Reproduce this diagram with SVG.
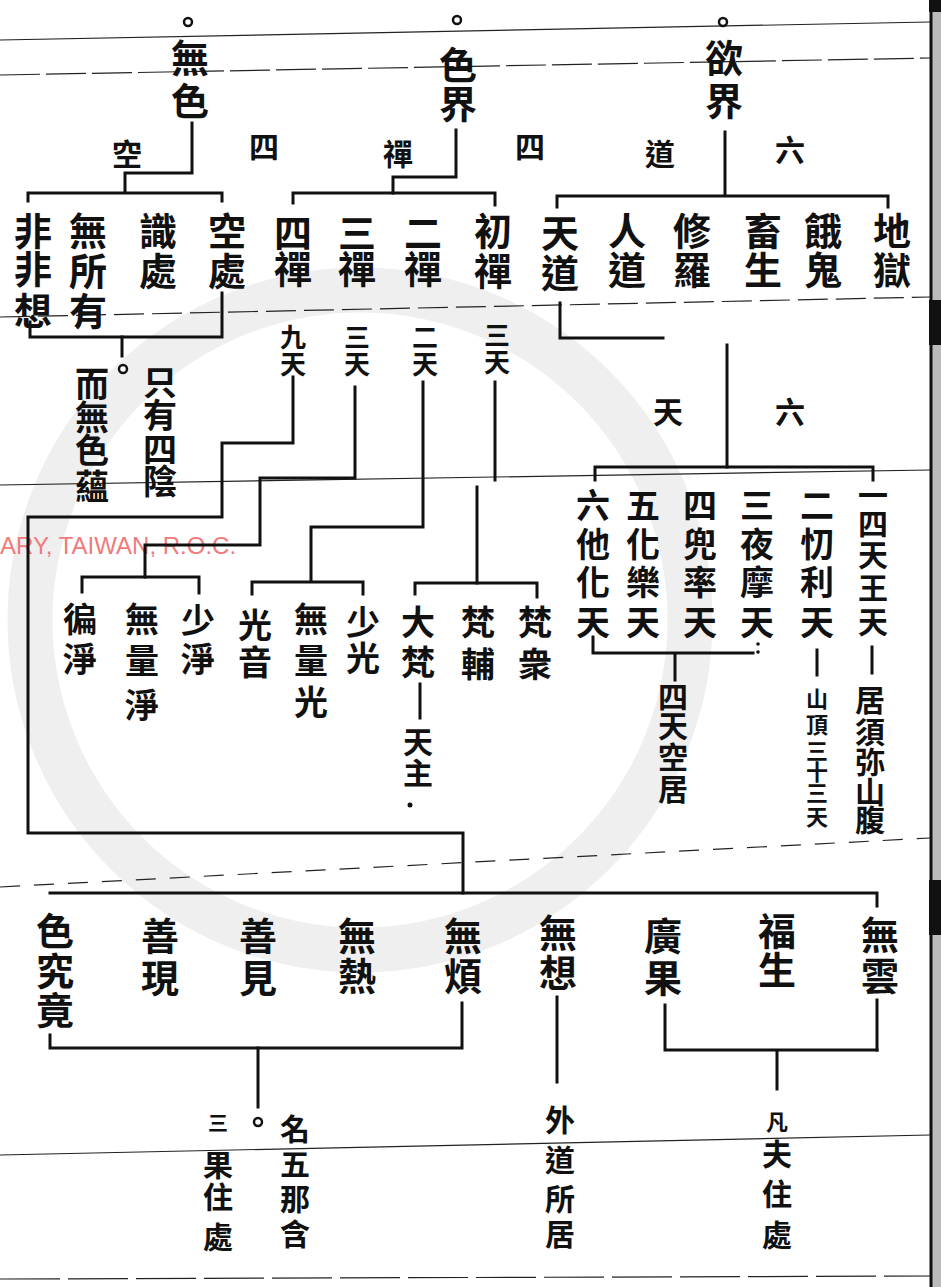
<svg xmlns="http://www.w3.org/2000/svg" width="941" height="1287" viewBox="0 0 941 1287">
<style>
.t{font-family:"Noto Sans CJK TC","Noto Sans CJK SC",sans-serif;font-weight:700;text-anchor:middle;dominant-baseline:central;fill:#111}
.s40{font-size:38px}
.s36{font-size:34px}
.s32{font-size:30px}
.s28{font-size:26px}
.s24{font-size:22px}
.c{fill:none;stroke:#111;stroke-width:3;stroke-linecap:square;stroke-linejoin:miter}
.d{stroke-dasharray:5 3}
.rule{fill:none;stroke:#222;stroke-width:1.2}
.ring{fill:none;stroke:#efefef}
.o{fill:#fff;stroke:#111;stroke-width:2.5}
.red{font-family:"Liberation Sans",Arial,sans-serif;font-size:24px;fill:#ef7b7b}
</style>
<rect width="941" height="1287" fill="#fff"/>
<g id="background">
<circle class="ring" cx="360" cy="620" r="330" stroke-width="45"/>
<path class="rule" d="M0,40 L930,22"/>
<path class="rule" d="M0,75 L930,58" stroke-dasharray="40 6"/>
<path class="rule" d="M0,317 L930,297" stroke-dasharray="30 8"/>
<path class="rule" d="M0,485 L930,470"/>
<path class="rule" d="M0,887 L930,838" stroke-dasharray="20 14"/>
<path class="rule" d="M0,1155 L930,1135"/>
<path class="rule" d="M0,1279 L941,1276" stroke-width="3" stroke-dasharray="60 8"/>
<rect x="932" y="0" width="9" height="1287" fill="#bbb"/>
<path d="M931,0 V1287" stroke="#111" stroke-width="3"/>
<rect x="929" y="0" width="12" height="12" fill="#111"/>
<rect x="929" y="300" width="12" height="45" fill="#111"/>
<rect x="929" y="880" width="12" height="55" fill="#111"/>
<text class="red" x="0" y="554">ARY, TAIWAN, R.O.C.</text>
</g>
<g id="connectors">
<path class="c" d="M192,123 V173 H125 V192"/>
<path class="c" d="M456,130 V177 H393 V193"/>
<path class="c" d="M725,132 V195"/>
<path class="c" d="M28,201 V193 H222 V201"/>
<path class="c" d="M293,203 V193 H495 V205"/>
<path class="c" d="M557,207 V196 H888 V207"/>
<path class="c" d="M30,322 V337 H222 V293"/>
<path class="c" d="M122,337 V356"/>
<circle class="o" cx="123" cy="369" r="4"/>
<path class="c" d="M293,377 V443 H222 V517 H28 V833 H463 V893"/>
<path class="c" d="M50,893 H877 V906"/>
<path class="c" d="M355,387 V478 H260 V545 H145 V577"/>
<path class="c" d="M82,592 V577 H199 V593"/>
<path class="c" d="M423,382 V527 H311 V580"/>
<path class="c" d="M252,594 V582 H363 V594"/>
<path class="c" d="M495,382 V480"/>
<path class="c" d="M477,487 V583"/>
<path class="c" d="M415,594 V583 H537 V597"/>
<path class="c d" d="M420,684 V718"/>
<circle cx="410" cy="805" r="2.5" fill="#111"/>
<path class="c" d="M560,303 V338 H663"/>
<path class="c" d="M727,345 V467"/>
<path class="c" d="M595,480 V467 H873 V480"/>
<path class="c d" d="M872,647 V673"/>
<path class="c d" d="M817,650 V675"/>
<path class="c" d="M593,637 V653 H753"/>
<path class="c d" d="M675,655 V680"/>
<circle cx="758" cy="644" r="1.8" fill="#111"/>
<circle cx="758" cy="652" r="1.8" fill="#111"/>
<path class="c" d="M50,1035 V1048 H462 V1003"/>
<path class="c" d="M258,1048 V1107"/>
<circle class="o" cx="258" cy="1122" r="4"/>
<path class="c d" d="M557,997 V1083"/>
<path class="c" d="M665,1005 V1050 H877"/>
<path class="c d" d="M877,1050 V1000"/>
<path class="c d" d="M777,1052 V1092"/>
<circle class="o" cx="188" cy="22" r="4"/>
<circle class="o" cx="457" cy="20" r="4"/>
<circle class="o" cx="723" cy="22" r="4"/>
</g>
<g id="n-wuse"><text class="t s40"><tspan x="190" y="55">無</tspan><tspan x="190" y="98">色</tspan></text></g>
<g id="n-sejie"><text class="t s40"><tspan x="458" y="62">色</tspan><tspan x="458" y="101">界</tspan></text></g>
<g id="n-yujie"><text class="t s40"><tspan x="724" y="55">欲</tspan><tspan x="724" y="98">界</tspan></text></g>
<g id="row-labels"><text class="t s32"><tspan x="127" y="152">空</tspan><tspan x="264" y="145">四</tspan><tspan x="398" y="152">禪</tspan><tspan x="530" y="145">四</tspan><tspan x="660" y="152">道</tspan><tspan x="790" y="148">六</tspan></text></g>
<g id="n-kongchu"><text class="t s40"><tspan x="227" y="228">空</tspan><tspan x="227" y="268">處</tspan></text></g>
<g id="n-shichu"><text class="t s40"><tspan x="158" y="228">識</tspan><tspan x="158" y="268">處</tspan></text></g>
<g id="n-wusuoyou"><text class="t s40"><tspan x="88" y="228">無</tspan><tspan x="88" y="268">所</tspan><tspan x="88" y="308">有</tspan></text></g>
<g id="n-feifeixiang"><text class="t s40"><tspan x="33" y="228">非</tspan><tspan x="33" y="266">非</tspan><tspan x="33" y="308">想</tspan></text></g>
<g id="n-sichan"><text class="t s40"><tspan x="293" y="230">四</tspan><tspan x="293" y="266">禪</tspan></text></g>
<g id="n-sanchan"><text class="t s40"><tspan x="357" y="230">三</tspan><tspan x="357" y="266">禪</tspan></text></g>
<g id="n-erchan"><text class="t s40"><tspan x="423" y="230">二</tspan><tspan x="423" y="266">禪</tspan></text></g>
<g id="n-chuchan"><text class="t s40"><tspan x="493" y="228">初</tspan><tspan x="493" y="268">禪</tspan></text></g>
<g id="n-tiandao"><text class="t s40"><tspan x="560" y="230">天</tspan><tspan x="560" y="270">道</tspan></text></g>
<g id="n-rendao"><text class="t s40"><tspan x="627" y="228">人</tspan><tspan x="627" y="267">道</tspan></text></g>
<g id="n-xiuluo"><text class="t s40"><tspan x="692" y="228">修</tspan><tspan x="692" y="267">羅</tspan></text></g>
<g id="n-chusheng"><text class="t s40"><tspan x="763" y="228">畜</tspan><tspan x="763" y="267">生</tspan></text></g>
<g id="n-egui"><text class="t s40"><tspan x="823" y="228">餓</tspan><tspan x="823" y="267">鬼</tspan></text></g>
<g id="n-diyu"><text class="t s40"><tspan x="892" y="228">地</tspan><tspan x="892" y="267">獄</tspan></text></g>
<g id="n-jiutian"><text class="t s28"><tspan x="293" y="335">九</tspan><tspan x="293" y="362">天</tspan></text></g>
<g id="n-santian-3"><text class="t s28"><tspan x="357" y="335">三</tspan><tspan x="357" y="362">天</tspan></text></g>
<g id="n-ertian"><text class="t s28"><tspan x="425" y="335">二</tspan><tspan x="425" y="362">天</tspan></text></g>
<g id="n-santian-1"><text class="t s28"><tspan x="497" y="333">三</tspan><tspan x="497" y="360">天</tspan></text></g>
<g id="n-note-wuse"><text class="t s36"><tspan x="160" y="380">只</tspan><tspan x="160" y="413">有</tspan><tspan x="160" y="447">四</tspan><tspan x="160" y="479">陰</tspan></text><text class="t s36"><tspan x="92" y="382">而</tspan><tspan x="92" y="415">無</tspan><tspan x="92" y="448">色</tspan><tspan x="92" y="484">蘊</tspan></text></g>
<g id="n-liutian"><text class="t s32"><tspan x="790" y="410">六</tspan><tspan x="668" y="410">天</tspan></text></g>
<g id="n-tawanghua"><text class="t s36"><tspan x="593" y="503">六</tspan><tspan x="593" y="542">他</tspan><tspan x="593" y="580">化</tspan><tspan x="593" y="620">天</tspan></text></g>
<g id="n-hualetian"><text class="t s36"><tspan x="643" y="503">五</tspan><tspan x="643" y="542">化</tspan><tspan x="643" y="580">樂</tspan><tspan x="643" y="620">天</tspan></text></g>
<g id="n-doushuai"><text class="t s36"><tspan x="700" y="503">四</tspan><tspan x="700" y="542">兜</tspan><tspan x="700" y="580">率</tspan><tspan x="700" y="620">天</tspan></text></g>
<g id="n-yemo"><text class="t s36"><tspan x="757" y="503">三</tspan><tspan x="757" y="542">夜</tspan><tspan x="757" y="580">摩</tspan><tspan x="757" y="620">天</tspan></text></g>
<g id="n-daoli"><text class="t s36"><tspan x="817" y="503">二</tspan><tspan x="817" y="542">忉</tspan><tspan x="817" y="580">利</tspan><tspan x="817" y="620">天</tspan></text></g>
<g id="n-sitianwang"><text class="t s32"><tspan x="873" y="493">一</tspan><tspan x="873" y="522">四</tspan><tspan x="873" y="553">天</tspan><tspan x="873" y="586">王</tspan><tspan x="873" y="620">天</tspan></text></g>
<g id="n-kongju"><text class="t s32"><tspan x="673" y="695">四</tspan><tspan x="673" y="724">天</tspan><tspan x="673" y="755">空</tspan><tspan x="673" y="787">居</tspan></text></g>
<g id="n-xumishanfu"><text class="t s32"><tspan x="870" y="698">居</tspan><tspan x="870" y="730">須</tspan><tspan x="870" y="760">弥</tspan><tspan x="870" y="790">山</tspan><tspan x="870" y="818">腹</tspan></text></g>
<g id="n-shanding"><text class="t s24"><tspan x="817" y="697">山</tspan><tspan x="817" y="723">頂</tspan><tspan x="817" y="749">三</tspan><tspan x="817" y="770">十</tspan><tspan x="817" y="791">三</tspan><tspan x="817" y="815">天</tspan></text></g>
<g id="n-shaoguang"><text class="t s36"><tspan x="363" y="620">少</tspan><tspan x="363" y="656">光</tspan></text></g>
<g id="n-wuliangguang"><text class="t s36"><tspan x="311" y="617">無</tspan><tspan x="311" y="658">量</tspan><tspan x="311" y="700">光</tspan></text></g>
<g id="n-guangyin"><text class="t s36"><tspan x="255" y="623">光</tspan><tspan x="255" y="660">音</tspan></text></g>
<g id="n-shaojing"><text class="t s36"><tspan x="198" y="618">少</tspan><tspan x="198" y="657">淨</tspan></text></g>
<g id="n-wuliangjing"><text class="t s36"><tspan x="142" y="617">無</tspan><tspan x="142" y="658">量</tspan><tspan x="142" y="703">淨</tspan></text></g>
<g id="n-bianjing"><text class="t s36"><tspan x="80" y="617">徧</tspan><tspan x="80" y="657">淨</tspan></text></g>
<g id="n-fanzhong"><text class="t s36"><tspan x="535" y="620">梵</tspan><tspan x="535" y="662">衆</tspan></text></g>
<g id="n-fanfu"><text class="t s36"><tspan x="478" y="620">梵</tspan><tspan x="478" y="662">輔</tspan></text></g>
<g id="n-dafan"><text class="t s36"><tspan x="418" y="620">大</tspan><tspan x="418" y="660">梵</tspan></text></g>
<g id="n-tianzhu"><text class="t s32"><tspan x="418" y="740">天</tspan><tspan x="418" y="771">主</tspan></text></g>
<g id="n-sejiujing"><text class="t s40"><tspan x="55" y="928">色</tspan><tspan x="55" y="968">究</tspan><tspan x="55" y="1007">竟</tspan></text></g>
<g id="n-shanxian"><text class="t s40"><tspan x="160" y="933">善</tspan><tspan x="160" y="975">現</tspan></text></g>
<g id="n-shanjian"><text class="t s40"><tspan x="258" y="933">善</tspan><tspan x="258" y="975">見</tspan></text></g>
<g id="n-wure"><text class="t s40"><tspan x="357" y="933">無</tspan><tspan x="357" y="973">熱</tspan></text></g>
<g id="n-wufan"><text class="t s40"><tspan x="463" y="933">無</tspan><tspan x="463" y="973">煩</tspan></text></g>
<g id="n-wuxiang"><text class="t s40"><tspan x="558" y="930">無</tspan><tspan x="558" y="970">想</tspan></text></g>
<g id="n-guangguo"><text class="t s40"><tspan x="663" y="933">廣</tspan><tspan x="663" y="975">果</tspan></text></g>
<g id="n-fusheng"><text class="t s40"><tspan x="777" y="928">福</tspan><tspan x="777" y="967">生</tspan></text></g>
<g id="n-wuyun"><text class="t s40"><tspan x="880" y="932">無</tspan><tspan x="880" y="973">雲</tspan></text></g>
<g id="n-wunahan"><text class="t s32"><tspan x="295" y="1127">名</tspan><tspan x="295" y="1162">五</tspan><tspan x="295" y="1197">那</tspan><tspan x="295" y="1232">含</tspan></text></g>
<g id="n-sanguo"><text class="t s32"><tspan x="218" y="1122" font-size="20">三</tspan><tspan x="218" y="1163">果</tspan><tspan x="218" y="1195">住</tspan><tspan x="218" y="1235">處</tspan></text></g>
<g id="n-waidao"><text class="t s32"><tspan x="560" y="1118">外</tspan><tspan x="560" y="1158">道</tspan><tspan x="560" y="1197">所</tspan><tspan x="560" y="1232">居</tspan></text></g>
<g id="n-fanfuzhu"><text class="t s32"><tspan x="777" y="1120" font-size="22">凡</tspan><tspan x="777" y="1152">夫</tspan><tspan x="777" y="1192">住</tspan><tspan x="777" y="1233">處</tspan></text></g>
</svg>
